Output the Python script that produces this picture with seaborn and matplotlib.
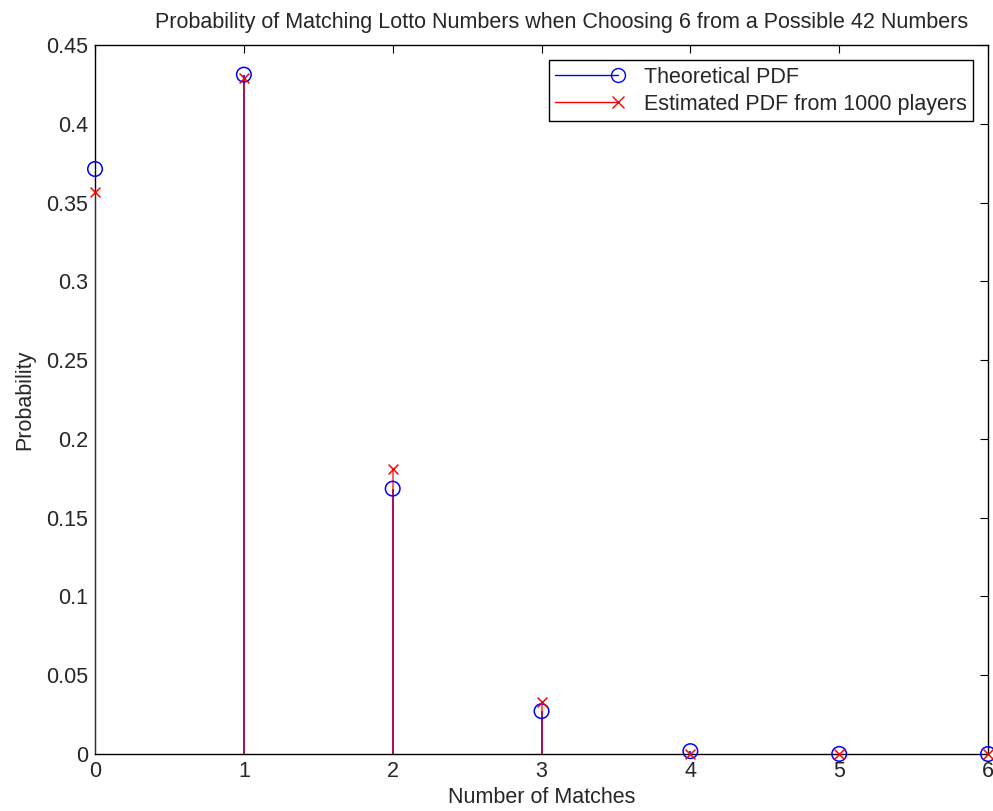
import matplotlib
matplotlib.use("Agg")
import matplotlib.pyplot as plt
from matplotlib.lines import Line2D
from matplotlib.legend_handler import HandlerLine2D
import seaborn as sns
import numpy as np
import pandas as pd

# number of matched numbers
matches = [0, 1, 2, 3, 4, 5, 6]
# theoretical hypergeometric pdf
theoretical = [0.3713, 0.4312, 0.1684, 0.0272, 0.0018, 0.00004, 0.0]
# estimated pdf from the 1000 simulated players
estimated = [0.357, 0.429, 0.181, 0.033, 0.0, 0.0, 0.0]

df_theo = pd.DataFrame({"Matches": matches, "Probability": theoretical})
df_est = pd.DataFrame({"Matches": matches, "Probability": estimated})


class EndMarker(HandlerLine2D):
    # matlab style legend entry: marker sits at the right end of the line
    def create_artists(self, legend, orig_handle, xdescent, ydescent,
                       width, height, fontsize, trans):
        arts = super().create_artists(legend, orig_handle, xdescent, ydescent,
                                      width, height, fontsize, trans)
        for a in arts:
            a.set_markevery([2])
        return arts


sns.set_theme(style="white")
plt.rcParams["font.family"] = ["Liberation Sans", "DejaVu Sans"]
plt.rcParams["xtick.direction"] = "in"
plt.rcParams["ytick.direction"] = "in"

fs = 15.5

fig = plt.figure(figsize=(9.93, 8.11), dpi=100)
ax = fig.add_axes([0.0957, 0.0703, 0.8993, 0.8742])

# stems: blue first, red drawn over it
ax.vlines(df_theo["Matches"], 0, df_theo["Probability"], color="blue", lw=1.2, zorder=2)
ax.vlines(df_est["Matches"], 0, df_est["Probability"], color="red", lw=1.2, alpha=0.75, zorder=3)

sns.scatterplot(data=df_theo, x="Matches", y="Probability", ax=ax, marker="o",
                s=110, facecolor="none", edgecolor="blue", linewidth=1.1,
                zorder=4, clip_on=False, legend=False)
sns.scatterplot(data=df_est, x="Matches", y="Probability", ax=ax, marker="x",
                s=50, color="red", linewidth=1.1, zorder=5, clip_on=False,
                legend=False)

ax.set_xlim(0, 6)
ax.set_ylim(0, 0.45)
ax.set_xticks(matches)
ax.set_yticks(np.arange(0, 0.451, 0.05))
ax.set_yticklabels(["0", "0.05", "0.1", "0.15", "0.2", "0.25", "0.3", "0.35", "0.4", "0.45"])
ax.tick_params(axis="both", labelsize=fs, length=6, width=0.8, color="black",
               top=True, right=True, pad=5)

for sp in ax.spines.values():
    sp.set_color("black")
    sp.set_linewidth(1.0)

ax.set_xlabel("Number of Matches", fontsize=fs, labelpad=4)
ax.set_ylabel("Probability", fontsize=fs, labelpad=8)
ax.set_title("Probability of Matching Lotto Numbers when Choosing 6 from a Possible 42 Numbers",
             fontsize=fs, pad=12, x=0.522)

handles = [
    Line2D([0], [0], color="blue", lw=1, marker="o", markersize=10,
           markerfacecolor="none", markeredgecolor="blue"),
    Line2D([0], [0], color="red", lw=1, marker="x", markersize=8),
]
leg = ax.legend(handles, ["Theoretical PDF", "Estimated PDF from 1000 players"],
                loc="upper right", fontsize=fs, frameon=True, fancybox=False,
                edgecolor="black", framealpha=1, borderaxespad=0.7,
                handlelength=2.9, handletextpad=1.2, labelspacing=0.3,
                borderpad=0.3, numpoints=1,
                handler_map={Line2D: EndMarker()})
leg.get_frame().set_linewidth(1.0)

fig.savefig("out.png", dpi=100)
